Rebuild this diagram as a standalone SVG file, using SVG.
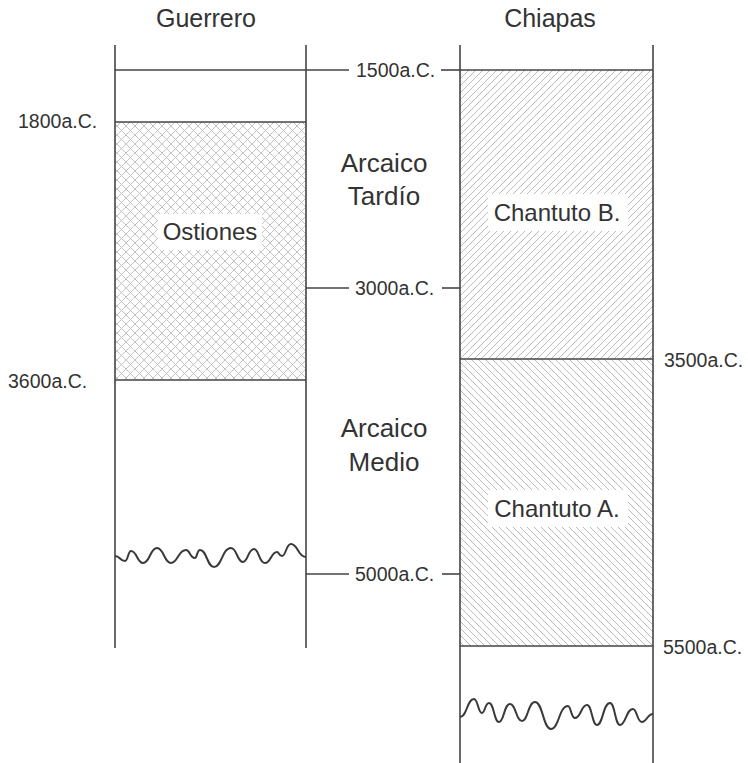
<svg xmlns="http://www.w3.org/2000/svg" width="748" height="763" viewBox="0 0 748 763">
<defs>
<pattern id="cross" patternUnits="userSpaceOnUse" width="9" height="9">
<path d="M0,0 L9,9 M9,0 L0,9" stroke="#bcbcbc" stroke-width="0.9" fill="none"/>
</pattern>
<pattern id="hatchB" patternUnits="userSpaceOnUse" width="7" height="7">
<path d="M-1,1 L1,-1 M0,7 L7,0 M6,8 L8,6" stroke="#bababa" stroke-width="1" fill="none"/>
</pattern>
<pattern id="hatchA" patternUnits="userSpaceOnUse" width="7" height="7">
<path d="M-1,6 L1,8 M0,0 L7,7 M6,-1 L8,1" stroke="#bababa" stroke-width="1" fill="none"/>
</pattern>
<style>
.ln{stroke:#444;stroke-width:1.6;fill:none}
.wv{stroke:#3a3a3a;stroke-width:2;fill:none}
.t{font-family:"Liberation Sans",Arial,sans-serif;fill:#333}
.h{font-size:24px;text-anchor:middle}
.g{font-size:25px}
.p{font-size:26px}
.d{font-size:19.5px}
.lb{fill:#fff;stroke:none}
</style>
</defs>
<rect width="748" height="763" fill="#fff"/>

<g id="guerrero">
<text class="t h g" x="206" y="27">Guerrero</text>
<rect x="115" y="122" width="191" height="258" fill="url(#cross)"/>
<line class="ln" x1="115" y1="45" x2="115" y2="648"/>
<line class="ln" x1="306" y1="45" x2="306" y2="648"/>
<line class="ln" x1="115" y1="122" x2="306" y2="122"/>
<line class="ln" x1="115" y1="380" x2="306" y2="380"/>
<path class="wv" d="M115,556 C120,556 120,561 125,561 C128,561 128,551 131,551 C137,551 137,563 143,563 C150,563 150,548 157,548 C164,548 164,563 171,563 C178,563 178,550 186,550 C190,550 190,558 195,558 C197,558 197,550 200,550 C207,550 207,567 214,567 C222,567 222,548 231,548 C237,548 237,562 243,562 C248,562 248,549 254,549 C259,549 259,563 265,563 C271,563 271,552 277,552 C279,552 279,556 282,556 C286,556 286,544 291,544 C298,544 298,557 306,557"/>
<text class="t d" x="18" y="128">1800a.C.</text>
<text class="t d" x="8" y="388">3600a.C.</text>
</g>

<g id="ostiones">
<rect class="lb" x="158" y="214" width="104" height="36"/>
<text class="t h" x="210" y="240">Ostiones</text>
</g>

<g id="chiapas">
<text class="t h g" x="550" y="27">Chiapas</text>
<rect x="460" y="70" width="193" height="289" fill="url(#hatchB)"/>
<rect x="460" y="359" width="193" height="287" fill="url(#hatchA)"/>
<line class="ln" x1="460" y1="45" x2="460" y2="763"/>
<line class="ln" x1="653" y1="45" x2="653" y2="763"/>
<line class="ln" x1="460" y1="70" x2="653" y2="70"/>
<line class="ln" x1="460" y1="359" x2="653" y2="359"/>
<line class="ln" x1="460" y1="646" x2="653" y2="646"/>
<path class="wv" d="M460,717 C467,717 467,699 474,699 C478,699 478,713 482,713 C485,713 485,703 489,703 C494,703 494,722 499,722 C504,722 504,704 510,704 C516,704 516,721 522,721 C528,721 528,702 535,702 C543,702 543,729 551,729 C559,729 559,706 568,706 C571,706 571,718 575,718 C581,718 581,705 587,705 C592,705 592,725 597,725 C603,725 603,703 610,703 C615,703 615,725 620,725 C626,725 626,709 633,709 C637,709 637,722 642,722 C647,722 647,714 653,714"/>
<text class="t d" x="664" y="367">3500a.C.</text>
<text class="t d" x="663" y="654">5500a.C.</text>
</g>

<g id="chantutoB">
<rect class="lb" x="488" y="194" width="140" height="37"/>
<text class="t h" x="557" y="221">Chantuto B.</text>
</g>

<g id="chantutoA">
<rect class="lb" x="488" y="490" width="140" height="37"/>
<text class="t h" x="557" y="517">Chantuto A.</text>
</g>

<g id="periods">
<text class="t h p" x="384" y="172">Arcaico</text>
<text class="t h p" x="384" y="205">Tardío</text>
<text class="t h p" x="384" y="437">Arcaico</text>
<text class="t h p" x="384" y="471">Medio</text>
</g>

<g id="connectors">
<line class="ln" x1="115" y1="70" x2="349" y2="70"/>
<line class="ln" x1="441" y1="70" x2="460" y2="70"/>
<text class="t d" x="356" y="77">1500a.C.</text>
<line class="ln" x1="306" y1="288" x2="349" y2="288"/>
<line class="ln" x1="442" y1="288" x2="460" y2="288"/>
<text class="t d" x="355" y="295">3000a.C.</text>
<line class="ln" x1="306" y1="574" x2="349" y2="574"/>
<line class="ln" x1="442" y1="574" x2="460" y2="574"/>
<text class="t d" x="355" y="581">5000a.C.</text>
</g>
</svg>
